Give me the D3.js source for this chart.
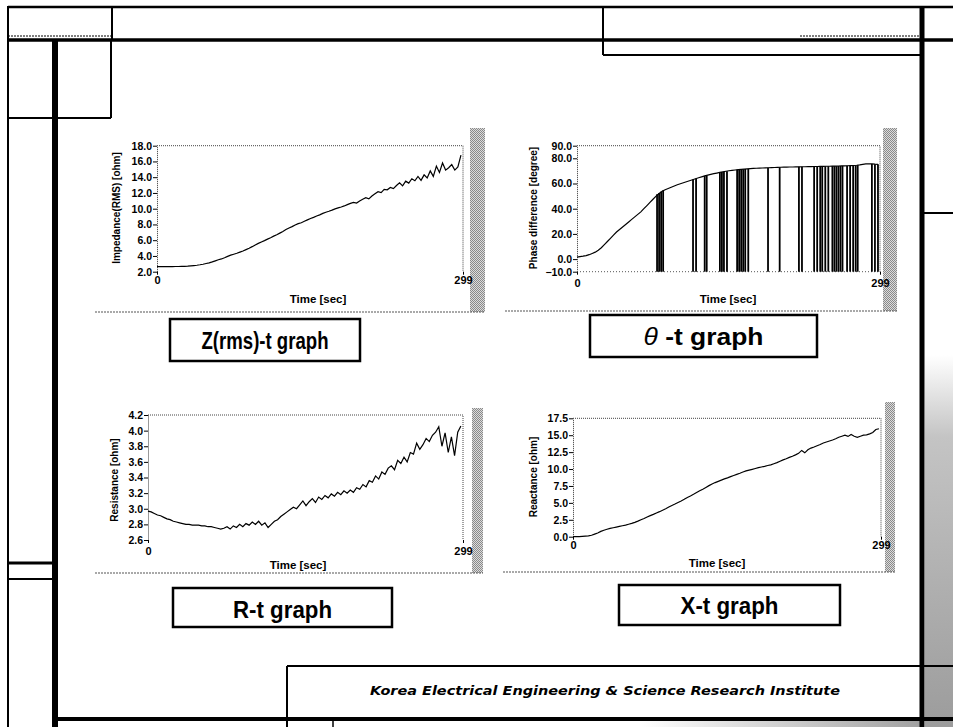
<!DOCTYPE html>
<html>
<head>
<meta charset="utf-8">
<script src="https://cdn.jsdelivr.net/npm/d3@7"></script>
<style>
body { margin: 0; background: #fff; }
svg { display: block; }
</style>
</head>
<body>
<div id="chart"></div>
<script>
// sample grid: one reading every 3 s over the 299 s run
var timeSec = d3.range(0, 300, 3);
var timeTicks = [0, 299];

var impedance = [
	2.65, 2.65, 2.65, 2.65, 2.65, 2.65, 2.66, 2.66, 2.67, 2.68,
	2.70, 2.74, 2.78, 2.82, 2.88, 2.95, 3.04, 3.12, 3.24, 3.38,
	3.52, 3.62, 3.78, 3.95, 4.10, 4.22, 4.34, 4.48, 4.62, 4.80,
	4.98, 5.18, 5.40, 5.60, 5.78, 5.95, 6.14, 6.32, 6.52, 6.70,
	6.90, 7.10, 7.35, 7.55, 7.72, 7.92, 8.10, 8.22, 8.40, 8.58,
	8.76, 8.90, 9.08, 9.22, 9.40, 9.55, 9.68, 9.82, 9.98, 10.10,
	10.22, 10.35, 10.52, 10.68, 10.80, 10.72, 10.98, 11.20, 11.40, 11.25,
	11.62, 11.90, 12.15, 12.05, 12.45, 12.40, 12.70, 12.55, 12.95, 13.30,
	12.90, 13.50, 13.25, 13.80, 13.55, 14.10, 13.60, 14.30, 13.90, 14.80,
	14.10, 15.40, 14.60, 15.80, 14.90, 15.20, 15.60, 14.90, 15.30, 16.80
];
var impedanceTicks = [2, 4, 6, 8, 10, 12, 14, 16, 18];

var phase = [
	1.5, 2.0, 2.3, 2.8, 3.5, 4.5, 5.5, 7.0, 9.0, 11.5,
	14.0, 16.5, 19.0, 21.5, 23.5, 25.5, 27.5, 29.5, 31.5, 33.5,
	35.5, 37.5, 40.0, 42.5, 45.0, 47.5, 50.0, 52.0, 53.8, 55.0,
	56.0, 57.0, 58.0, 59.0, 59.8, 60.6, 61.4, 62.2, 63.0, 63.8,
	64.6, 65.3, 66.0, 66.6, 67.2, 67.8, 68.3, 68.8, 69.3, 69.7,
	70.1, 70.4, 70.7, 71.0, 71.2, 71.4, 71.6, 71.8, 72.0, 72.1,
	72.2, 72.3, 72.4, 72.5, 72.6, 72.7, 72.8, 72.9, 73.0, 73.0,
	73.1, 73.1, 73.2, 73.2, 73.3, 73.3, 73.4, 73.4, 73.5, 73.5,
	73.6, 73.6, 73.7, 73.7, 73.8, 73.8, 73.9, 74.0, 74.0, 74.1,
	74.2, 74.3, 74.5, 74.8, 75.2, 75.5, 75.6, 75.5, 75.3, 75.2
];
// readings where the phase meter dropped to the bottom of its range
var phaseDropTimes = [79, 81, 83, 85, 114.5, 117.5, 126, 128, 141, 143, 145, 148,
	158, 160, 162, 164, 166, 169, 188.5, 200, 219, 222, 234, 237, 240, 242, 245, 248,
	252, 254, 256, 258, 260, 262, 266.5, 269.5, 272.5, 275, 277, 291, 294, 297];
var phaseDropTops = [51.5, 52.5, 53.5, 54.5, 63.2, 64.0, 66.0, 66.4, 68.8, 69.1, 69.4, 69.8,
	70.9, 71.1, 71.2, 71.3, 71.5, 71.6, 72.5, 72.9, 73.2, 73.3, 73.5, 73.5, 73.6, 73.6, 73.7, 73.7,
	73.8, 73.8, 73.8, 73.9, 73.9, 74.0, 74.1, 74.2, 74.3, 74.4, 74.6, 75.5, 75.3, 75.2];
var phaseTicks = [-10, 0, 20, 40, 60, 80, 90];

var resistance = [
	2.97, 2.96, 2.94, 2.92, 2.91, 2.89, 2.87, 2.86, 2.84, 2.83,
	2.82, 2.81, 2.80, 2.80, 2.79, 2.79, 2.79, 2.78, 2.78, 2.77,
	2.77, 2.76, 2.75, 2.74, 2.75, 2.77, 2.74, 2.78, 2.76, 2.80,
	2.77, 2.81, 2.79, 2.83, 2.80, 2.84, 2.79, 2.82, 2.76, 2.80,
	2.84, 2.86, 2.90, 2.93, 2.96, 2.99, 3.02, 3.00, 3.05, 3.10,
	3.04, 3.09, 3.13, 3.08, 3.15, 3.12, 3.17, 3.14, 3.19, 3.16,
	3.21, 3.18, 3.23, 3.20, 3.24, 3.21, 3.27, 3.25, 3.31, 3.28,
	3.36, 3.34, 3.42, 3.38, 3.47, 3.44, 3.52, 3.55, 3.50, 3.62,
	3.58, 3.66, 3.60, 3.72, 3.70, 3.84, 3.76, 3.82, 3.90, 3.86,
	3.94, 3.98, 4.05, 3.80, 3.97, 3.72, 3.92, 3.68, 3.98, 4.06
];
var resistanceTicks = [2.6, 2.8, 3.0, 3.2, 3.4, 3.6, 3.8, 4.0, 4.2];

var reactance = [
	0.00, 0.00, 0.02, 0.05, 0.08, 0.12, 0.22, 0.38, 0.55, 0.78,
	0.95, 1.10, 1.22, 1.32, 1.42, 1.52, 1.62, 1.72, 1.84, 1.96,
	2.12, 2.30, 2.50, 2.70, 2.92, 3.12, 3.30, 3.50, 3.70, 3.92,
	4.14, 4.38, 4.60, 4.82, 5.06, 5.28, 5.52, 5.80, 6.02, 6.26,
	6.52, 6.78, 7.02, 7.28, 7.55, 7.80, 8.00, 8.18, 8.36, 8.55,
	8.70, 8.88, 9.05, 9.22, 9.38, 9.56, 9.72, 9.85, 9.96, 10.08,
	10.20, 10.30, 10.40, 10.52, 10.62, 10.78, 10.95, 11.15, 11.35, 11.52,
	11.72, 11.90, 12.10, 12.32, 12.75, 12.40, 12.85, 13.10, 13.25, 13.45,
	13.62, 13.85, 14.00, 14.15, 14.30, 14.48, 14.70, 14.85, 15.00, 14.82,
	15.10, 14.85, 14.70, 14.85, 15.00, 15.05, 15.20, 15.40, 15.85, 15.95
];
var reactanceTicks = [0, 2.5, 5, 7.5, 10, 12.5, 15, 17.5];

var w = 953,
	h = 727;
var root = d3.select("#chart").append("svg").attr("width", w).attr("height", h);
var defs = root.append("defs");

// scanned dither look for the grey strips
var dither = defs.append("pattern").attr("id", "dither").attr("width", 2).attr("height", 2).attr("patternUnits", "userSpaceOnUse");
dither.append("rect").attr("width", 2).attr("height", 2).attr("fill", "#dcdcdc");
dither.append("rect").attr("width", 1).attr("height", 1).attr("fill", "#8a8a8a");
dither.append("rect").attr("x", 1).attr("y", 1).attr("width", 1).attr("height", 1).attr("fill", "#8a8a8a");

var edgeGrad = defs.append("linearGradient").attr("id", "edgeGrad").attr("x1", 0).attr("y1", 0).attr("x2", 0).attr("y2", 1);
edgeGrad.append("stop").attr("offset", "0%").attr("stop-color", "#fff");
edgeGrad.append("stop").attr("offset", "22%").attr("stop-color", "#c4c4c4");
edgeGrad.append("stop").attr("offset", "100%").attr("stop-color", "#9c9c9c");

var footGrad = defs.append("linearGradient").attr("id", "footGrad").attr("x1", 0).attr("y1", 0).attr("x2", 1).attr("y2", 0);
footGrad.append("stop").attr("offset", "0%").attr("stop-color", "#fff");
footGrad.append("stop").attr("offset", "100%").attr("stop-color", "#a0a0a0");

root.append("rect").attr("x", 925).attr("y", 355).attr("width", 28).attr("height", 372).attr("fill", "url(#edgeGrad)");
root.append("rect").attr("x", 640).attr("y", 721).attr("width", 282).attr("height", 6).attr("fill", "url(#footGrad)");

// slide frame
var frame = root.append("g").attr("stroke", "#000").attr("fill", "none");

function seg(x1, y1, x2, y2, sw, dash) {
	var l = frame.append("line").attr("x1", x1).attr("y1", y1).attr("x2", x2).attr("y2", y2).attr("stroke-width", sw);
	if (dash) {
		l.attr("stroke-dasharray", dash);
	}
	return l;
}
seg(8, 7, 953, 7, 2.5);
seg(8, 6, 8, 727, 2);
seg(112, 7, 112, 40, 2);
seg(8, 36, 112, 36, 1, "2,1");
seg(800, 36, 922, 36, 1, "2,1");
seg(8, 40, 953, 40, 3.5);
seg(55, 40, 55, 727, 6);
seg(8, 118, 52, 118, 2);
seg(111, 40, 111, 118, 2);
seg(58, 118, 111, 118, 2);
seg(8, 563, 52, 563, 3);
seg(8, 579, 52, 579, 2);
seg(922, 7, 922, 727, 5);
seg(603, 7, 603, 55, 2);
seg(603, 55, 922, 55, 2);
seg(922, 213, 953, 213, 2);
seg(287, 666, 953, 666, 2);
seg(287, 666, 287, 727, 2);
seg(55, 719, 953, 719, 4);
seg(333, 719, 333, 727, 1.5);

root.append("text").attr("x", 605).attr("y", 695).attr("text-anchor", "middle")
	.attr("font-family", "DejaVu Sans").attr("font-size", 13).attr("font-weight", "bold").attr("font-style", "italic")
	.attr("textLength", 470).attr("lengthAdjust", "spacingAndGlyphs")
	.text("Korea Electrical Engineering & Science Research Institute");

var panels = [{
	values: impedance, domain: [2, 18], ticks: impedanceTicks, fmt: ".1f",
	x0: 157, x1: 463, y0: 145.7, y1: 271.7,
	title: "Impedance(RMS) [ohm]", titleX: 116, titleY: 208,
	timeX: 318, timeY: 303, xPad: 2,
	band: [470, 128, 15, 184], base: [95, 312, 485]
}, {
	values: phase, domain: [-10, 90], ticks: phaseTicks, fmt: ".1f",
	x0: 577, x1: 880, y0: 145.7, y1: 271.7,
	title: "Phase difference [degree]", titleX: 533, titleY: 208,
	timeX: 728, timeY: 303, xPad: 5,
	band: [883, 128, 14, 183], base: [505, 311, 897]
}, {
	values: resistance, domain: [2.6, 4.2], ticks: resistanceTicks, fmt: ".1f",
	x0: 148, x1: 463, y0: 415, y1: 540,
	title: "Resistance [ohm]", titleX: 114, titleY: 480,
	timeX: 298, timeY: 569, xPad: 4,
	band: [472, 408, 11, 165], base: [95, 573, 483]
}, {
	values: reactance, domain: [0, 17.5], ticks: reactanceTicks, fmt: ".1f",
	x0: 573, x1: 881, y0: 418.3, y1: 536.7,
	title: "Reactance [ohm]", titleX: 533, titleY: 477,
	timeX: 717, timeY: 567, xPad: 2,
	band: [885, 402, 10, 170], base: [503, 572, 895]
}];

panels.forEach(function(p, k) {
	drawPanel(p, k);
});

function drawPanel(p, k) {
	var x = d3.scaleLinear().domain([0, 299]).range([p.x0, p.x1]);
	var y = d3.scaleLinear().domain(p.domain).range([p.y1, p.y0]);
	var g = root.append("g");

	g.append("rect").attr("x", p.band[0]).attr("y", p.band[1]).attr("width", p.band[2]).attr("height", p.band[3]).attr("fill", "url(#dither)");
	g.append("line").attr("x1", p.base[0]).attr("y1", p.base[1]).attr("x2", p.base[2]).attr("y2", p.base[1])
		.attr("stroke", "#555").attr("stroke-width", 1.2).attr("stroke-dasharray", "2,1");

	// dotted top and right edge of the plot
	g.append("path").attr("d", "M" + x(0) + "," + y(p.domain[1]) + "H" + x(299) + "V" + y(p.domain[0]))
		.attr("fill", "none").attr("stroke", "#444").attr("stroke-dasharray", "1,1");

	var ya = g.append("g").attr("transform", "translate(" + x(0) + ",0)")
		.call(d3.axisLeft(y).tickValues(p.ticks).tickFormat(d3.format(p.fmt)).tickSize(4).tickSizeOuter(0).tickPadding(1));
	ya.select(".domain").attr("stroke", "#333").attr("stroke-dasharray", "1,1");
	ya.selectAll(".tick line").attr("stroke", "#000");
	ya.selectAll("text").attr("font-family", "Liberation Sans").attr("font-weight", "bold").attr("font-size", 10.5).attr("fill", "#000");

	var xa = g.append("g").attr("transform", "translate(0," + y(p.domain[0]) + ")")
		.call(d3.axisBottom(x).tickValues(timeTicks).tickSize(3).tickPadding(p.xPad));
	xa.select(".domain").remove();
	xa.selectAll(".tick line").attr("stroke", "#000");
	xa.selectAll("text").attr("font-family", "Liberation Sans").attr("font-weight", "bold").attr("font-size", 11).attr("fill", "#000");

	if (k === 1) {
		g.append("line").attr("x1", x(0)).attr("y1", y(-10)).attr("x2", x(299)).attr("y2", y(-10))
			.attr("stroke", "#555").attr("stroke-dasharray", "1,2");
		g.selectAll(".drop").data(phaseDropTimes).enter().append("line").classed("drop", true)
			.attr("x1", function(d) { return x(d); }).attr("x2", function(d) { return x(d); })
			.attr("y1", y(-10)).attr("y2", function(d, i) { return y(phaseDropTops[i]); })
			.attr("stroke", "#000").attr("stroke-width", 1.8);
	}

	var line = d3.line().x(function(d, i) { return x(timeSec[i]); }).y(function(d) { return y(d); });
	g.append("path").datum(p.values).attr("d", line).attr("fill", "none").attr("stroke", "#000").attr("stroke-width", 1.2);

	g.append("text").attr("transform", "translate(" + p.titleX + "," + p.titleY + ") rotate(-90)")
		.attr("text-anchor", "middle").attr("dy", "0.35em")
		.attr("font-family", "Liberation Sans").attr("font-weight", "bold").attr("font-size", 10).text(p.title);
	g.append("text").attr("x", p.timeX).attr("y", p.timeY).attr("text-anchor", "middle")
		.attr("font-family", "Liberation Sans").attr("font-weight", "bold").attr("font-size", 11.5).text("Time [sec]");
}

// caption boxes under each graph
var captions = [
	{ label: "Z(rms)-t graph", box: [170, 319, 190, 42], base: 349, len: 127 },
	{ label: "-t graph", theta: true, box: [590, 315, 227, 42], base: 345, len: 120 },
	{ label: "R-t graph", box: [173, 588, 219, 39], base: 618, len: 99 },
	{ label: "X-t graph", box: [619, 585, 221, 40], base: 614, len: 98 }
];

captions.forEach(function(c) {
	root.append("rect").attr("x", c.box[0]).attr("y", c.box[1]).attr("width", c.box[2]).attr("height", c.box[3])
		.attr("fill", "none").attr("stroke", "#000").attr("stroke-width", 2.5);
	var t = root.append("text").attr("x", c.box[0] + c.box[2] / 2).attr("y", c.base).attr("text-anchor", "middle")
		.attr("font-family", "Liberation Sans").attr("font-weight", "bold").attr("font-size", 24)
		.attr("textLength", c.len).attr("lengthAdjust", "spacingAndGlyphs");
	if (c.theta) {
		t.append("tspan").attr("font-style", "italic").attr("font-weight", "normal").text("\u03b8 ");
	}
	t.append("tspan").text(c.label);
});
</script>
</body>
</html>
